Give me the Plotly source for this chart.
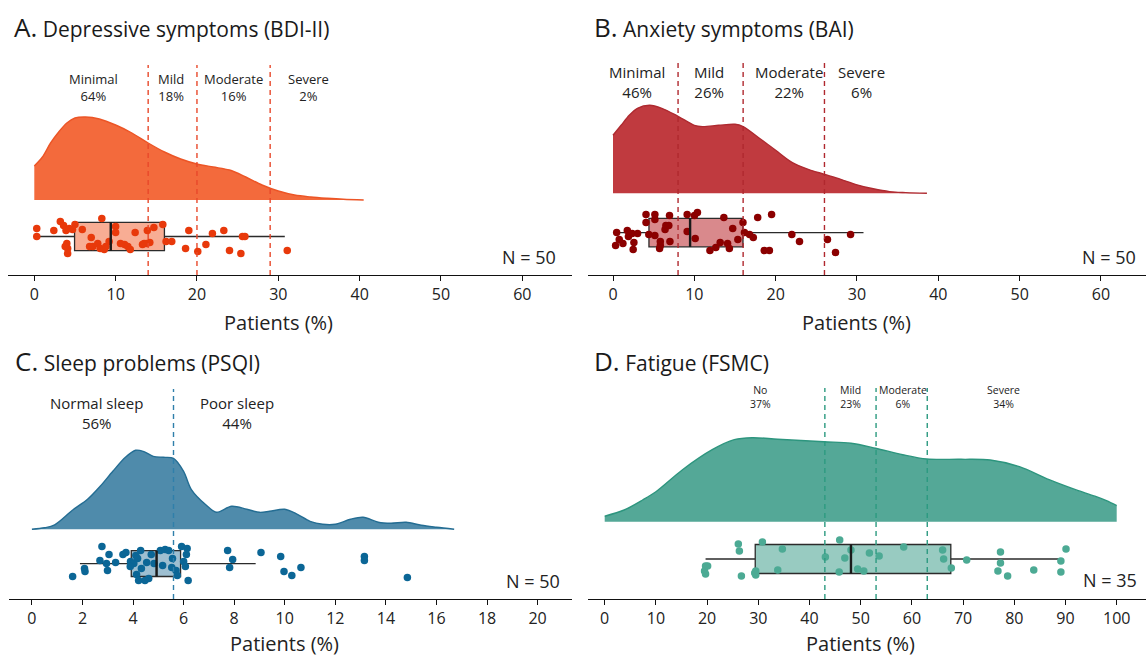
import plotly.graph_objects as go

W, H = 1148, 656
FONT = "Open Sans"
TXT = "#222222"

# ---------------- Panel A: Depressive symptoms (BDI-II) ----------------
a_title = ("A.", "Depressive symptoms (BDI-II)")
a_cuts = [14, 20, 29]
a_cat_labels = ["Minimal<br>64%", "Mild<br>18%", "Moderate<br>16%", "Severe<br>2%"]
a_cat_x = [7.3, 16.8, 24.5, 33.7]
a_dens_x = [0, 1, 2, 3, 4, 5, 6.3, 8, 10, 12, 14, 16, 18, 20, 22, 24, 26, 28, 30, 32, 34, 36, 38, 40.5]
a_dens_h = [34, 43, 57, 68, 77, 82, 83, 81, 75, 67, 57, 48, 41, 36, 33, 30, 23, 15, 9, 5, 3, 1.7, 0.7, 0]
a_pts_x = [0.3, 0.3, 2.4, 3.2, 3.6, 3.9, 4.0, 4.1, 4.1, 5.0, 4.7, 5.9, 7.0, 7.2, 7.8, 8.3, 8.1, 8.6, 9.2, 10.0,
           10.0, 11.1, 11.5, 11.8, 12.4, 13.3, 13.8, 14.2, 13.9, 14.7, 15.8, 16.2, 16.9, 18.6, 19.0, 20.1, 21.1,
           21.9, 23.3, 24.0, 25.4, 25.6, 25.9, 31.1, 4.3, 6.8, 8.8, 3.8, 10.6, 13.5]
a_pts_jit = [8, 0, 6, 15, 11, 6, -7, -12, -17, 12, 7, 7, -1, -10, -7, 18, -12, -13, -5, 10,
             4, -8, -10, -13, 4, -8, -7, -6, 6, 9, 12, -5, -5, -12, 6, -15, -8, 3, 6, -14,
             -17, 0, 0, -14, 8, -10, -10, -10, -7, -7]
a_box = [0.5, 4.95, 9.4, 16.0, 30.8]   # lower whisker, Q1, median, Q3, upper whisker
a_n = "N = 50"

# ---------------- Panel B: Anxiety symptoms (BAI) ----------------
b_title = ("B.", "Anxiety symptoms (BAI)")
b_cuts = [8, 16, 26]
b_cat_labels = ["Minimal<br>46%", "Mild<br>26%", "Moderate<br>22%", "Severe<br>6%"]
b_cat_x = [2.9, 11.8, 21.6, 30.6]
b_dens_x = [0, 1, 2, 3, 4.5, 6, 8, 10, 11, 13, 15, 16, 18, 20, 22, 24, 26, 28, 30, 32, 34, 36, 38.6]
b_dens_h = [58, 68, 78, 85, 88, 85, 77, 68, 66.7, 68, 69, 66.7, 55, 43, 31, 24, 19, 14, 8.5, 4.5, 1.7, 0.7, 0]
b_pts_x = [0.45, 0.32, 0.77, 1.76, 1.90, 2.35, 2.57, 3.02, 2.48, 1.22, 4.06, 4.06, 5.15, 5.15, 5.15, 5.82,
           5.82, 5.73, 6.50, 6.86, 6.95, 7.00, 9.12, 9.12, 10.02, 10.38, 10.11, 11.92, 12.64, 13.18, 13.63,
           14.09, 14.31, 14.72, 15.35, 15.98, 16.16, 16.79, 17.25, 17.79, 18.60, 19.23, 19.50, 21.99, 22.93,
           26.37, 27.36, 29.21, 6.4, 4.4]
b_pts_jit = [0, -13, -7, 2, -4, -1, -10, -1, -17, -11, 18, 10, 18, 13, -3, -9,
             -13, -16, 7, 7, 17, -9, 18, 1, 17, 20, -6, -18, -15, -10, 15,
             -11, -16, 4, -7, 10, 0, -2, -5, 15, -18, -18, 18, -2, -9,
             -7, -20, -2, 3, -2]
b_box = [0.2, 4.42, 9.48, 15.98, 30.8]
b_n = "N = 50"

# ---------------- Panel C: Sleep problems (PSQI) ----------------
c_title = ("C.", "Sleep problems (PSQI)")
c_cuts = [5.6]
c_cat_labels = ["Normal sleep<br>56%", "Poor sleep<br>44%"]
c_cat_x = [2.55, 8.1]
c_dens_x = [0, 0.5, 0.9, 1.6, 2.2, 2.7, 3.2, 3.7, 4.1, 4.4, 4.8, 5.2, 5.6, 6.0, 6.3, 6.9, 7.3, 7.9, 8.5, 9.0,
            9.4, 10.0, 10.5, 11.0, 11.5, 12.0, 12.6, 13.1, 13.7, 14.2, 14.8, 15.4, 16.0, 16.7]
c_dens_h = [0, 1.5, 4.5, 19, 30, 43, 58, 72, 79, 78, 73, 72, 71, 58, 40, 24, 17, 23, 20, 17,
            18, 20, 15, 8, 5, 5, 10, 12, 7, 6, 7, 4, 2, 0]
c_pts_x = [1.61, 2.08, 2.10, 2.77, 2.69, 2.95, 3.05, 2.99, 3.31, 3.60, 3.72, 3.90, 4.03, 4.14, 4.22, 4.11,
           4.30, 4.18, 4.54, 4.62, 4.72, 5.08, 5.17, 5.27, 5.53, 5.70, 5.75, 5.92, 6.00, 6.07, 6.11, 6.14,
           6.18, 7.74, 7.94, 7.82, 9.06, 9.84, 9.97, 10.28, 10.64, 13.15, 13.15, 14.85, 4.83, 4.33, 5.56,
           3.89, 5.41, 4.47]
c_pts_jit = [-13, -5, -8, 17, 3, 0, 9, -7, 1, 9, 11, 2, 0, -11, -17, 8,
             13, 5, 1, -15, 9, 13, -2, 14, -4, -7, -12, 17, 2, -3, 9, 15,
             -17, 13, 4, -4, 11, 7, -8, -12, -4, 7, 3, -14, 0, -5, 5,
             -3, 13, -17]
c_box = [1.9, 3.93, 4.93, 5.88, 8.85]
c_n = "N = 50"

# ---------------- Panel D: Fatigue (FSMC) ----------------
d_title = ("D.", "Fatigue (FSMC)")
d_cuts = [43, 53, 63]
d_cat_labels = ["No<br>37%", "Mild<br>23%", "Moderate<br>6%", "Severe<br>34%"]
d_cat_x = [30.4, 48.1, 58.3, 77.9]
d_dens_x = [0, 3.8, 7.4, 10, 15.2, 21, 25.3, 28.8, 33.8, 42.8, 48.1, 52.9, 58.2, 62.9, 69.6, 75.3, 81,
            86.8, 92.5, 96, 98, 100]
d_dens_h = [5.5, 11.7, 21.7, 30, 52, 72, 82, 84, 82.5, 80, 78.5, 73.5, 67, 62.7, 62.4, 61.7, 55,
            42, 31, 25, 21, 16]
d_pts_x = [19.7, 19.5, 19.7, 20.1, 26.1, 26.3, 26.7, 29.5, 29.5, 30.8, 33.8, 34.7, 43.1, 45.9, 45.8, 46.9,
           48.1, 49.4, 50.6, 51.7, 53.6, 58.4, 66.0, 66.2, 67.7, 70.7, 76.8, 77.3, 77.3, 78.7, 83.8, 89.1,
           89.1, 90.1, 29.3]
d_pts_jit = [-7, -12, -15, -7, 15, 8, -17, -12, -16, 17, -11, 10, 2, 19, -13, 1,
             9, -10, -12, 6, 3, 12, 9, 0, -9, -1, -12, 7, -4, -17, -11, -2,
             -13, 10, -14]
d_box = [19.7, 29.4, 48.1, 67.6, 88.9]
d_n = "N = 35"

# ---------------- styling / layout (not data) ----------------
panels = [
    dict(title=a_title, cuts=a_cuts, labs=a_cat_labels, labx=a_cat_x, dx=a_dens_x, dh=a_dens_h,
         px=a_pts_x, pj=a_pts_jit, box=a_box, n=a_n,
         fill="#F36A3C", line="#EC5526", pt="#E8390B", boxfill="rgba(243,106,60,0.55)", cut="#E8482A",
         xdom=(8.3, 572), zero=34.3, ppu=8.133, ydom=(275, 40), ticks=list(range(0, 61, 10)),
         base=75, boxc=38.5, boxw=28.4, cuttop=210, laby=187.5, labsize=13, nx=64.4, ny=18.5,
         tx=12, ty=27, tty=47),
    dict(title=b_title, cuts=b_cuts, labs=b_cat_labels, labx=b_cat_x, dx=b_dens_x, dh=b_dens_h,
         px=b_pts_x, pj=b_pts_jit, box=b_box, n=b_n,
         fill="#C03A3F", line="#AE2A30", pt="#8B0000", boxfill="rgba(192,58,63,0.6)", cut="#B0282E",
         xdom=(587.7, 1146), zero=613, ppu=8.133, ydom=(275, 40), ticks=list(range(0, 61, 10)),
         base=81.7, boxc=42.4, boxw=28.4, cuttop=212, laby=192.8, labsize=15, nx=64.6, ny=18.5,
         tx=592, ty=27, tty=47),
    dict(title=c_title, cuts=c_cuts, labs=c_cat_labels, labx=c_cat_x, dx=c_dens_x, dh=c_dens_h,
         px=c_pts_x, pj=c_pts_jit, box=c_box, n=c_n,
         fill="#4F8BAB", line="#246D93", pt="#0B6696", boxfill="rgba(79,139,171,0.55)", cut="#2F7FAA",
         xdom=(9, 572), zero=31.9, ppu=25.285, ydom=(599, 364), ticks=list(range(0, 21, 2)),
         base=69.7, boxc=35.4, boxw=25.8, cuttop=210, laby=186.3, labsize=15, nx=20.95, ny=18,
         tx=12.7, ty=361, tty=44),
    dict(title=d_title, cuts=d_cuts, labs=d_cat_labels, labx=d_cat_x, dx=d_dens_x, dh=d_dens_h,
         px=d_pts_x, pj=d_pts_jit, box=d_box, n=d_n,
         fill="#54A897", line="#2D957E", pt="#4CAA94", boxfill="rgba(84,168,151,0.6)", cut="#2C9A80",
         xdom=(588, 1146), zero=604.7, ppu=5.12, ydom=(599, 364), ticks=list(range(0, 101, 10)),
         base=77.3, boxc=40.0, boxw=29.0, cuttop=211, laby=202, labsize=10.5, nx=104.4, ny=19,
         tx=592, ty=361, tty=44),
]

fig = go.Figure()
annotations = []
layout_axes = {}

# boxes first so that their layer lies beneath scatter layers
for i, p in enumerate(panels):
    sfx = "" if i == 0 else str(i + 1)
    lo, q1, med, q3, hi = p["box"]
    fig.add_trace(go.Box(
        y=[p["boxc"]], q1=[q1], median=[med], q3=[q3], lowerfence=[lo], upperfence=[hi],
        orientation="h", width=p["boxw"], whiskerwidth=0, boxpoints=False,
        fillcolor=p["boxfill"], line=dict(color="#2b2b2b", width=1.3),
        xaxis="x" + sfx, yaxis="y" + sfx, hoverinfo="skip", showlegend=False))

for i, p in enumerate(panels):
    sfx = "" if i == 0 else str(i + 1)
    xa, ya = "x" + sfx, "y" + sfx
    base = p["base"]
    # density (half violin)
    fig.add_trace(go.Scatter(x=[p["dx"][0], p["dx"][-1]], y=[base, base], mode="lines",
                             line=dict(width=0, color=p["fill"]), xaxis=xa, yaxis=ya,
                             hoverinfo="skip", showlegend=False))
    fig.add_trace(go.Scatter(x=p["dx"], y=[base + h for h in p["dh"]], mode="lines",
                             line=dict(color=p["line"], width=1.4, shape="spline", smoothing=0.9),
                             fill="tonexty", fillcolor=p["fill"], xaxis=xa, yaxis=ya,
                             hoverinfo="skip", showlegend=False))
    # jittered points
    fig.add_trace(go.Scatter(x=p["px"], y=[p["boxc"] + j for j in p["pj"]], mode="markers",
                             marker=dict(size=7.5, color=p["pt"], line=dict(width=0)),
                             xaxis=xa, yaxis=ya, hoverinfo="skip", showlegend=False))
    # thicker median bar
    med = p["box"][2]
    fig.add_trace(go.Scatter(x=[med, med], y=[p["boxc"] - p["boxw"] / 2, p["boxc"] + p["boxw"] / 2],
                             mode="lines", line=dict(color="#1a1a1a", width=2.4),
                             xaxis=xa, yaxis=ya, hoverinfo="skip", showlegend=False))
    # cut-off lines
    for c in p["cuts"]:
        fig.add_trace(go.Scatter(x=[c, c], y=[0, p["cuttop"]], mode="lines",
                                 line=dict(color=p["cut"], width=1.4, dash="5px,4px"),
                                 xaxis=xa, yaxis=ya, hoverinfo="skip", showlegend=False))
    # category labels
    for lx, lt in zip(p["labx"], p["labs"]):
        annotations.append(dict(x=lx, y=p["laby"], xref=xa, yref=ya, text=lt, showarrow=False,
                                xanchor="center", yanchor="middle", align="center",
                                font=dict(family=FONT, size=p["labsize"], color=TXT)))
    # N label
    annotations.append(dict(x=p["nx"], y=p["ny"], xref=xa, yref=ya, text=p["n"], showarrow=False,
                            xanchor="right", yanchor="middle",
                            font=dict(family=FONT, size=18, color=TXT)))
    # panel title
    annotations.append(dict(x=p["tx"] / W, y=1 - p["ty"] / H, xref="paper", yref="paper",
                            text="<span style='font-size:26px'>%s</span> %s" % p["title"],
                            showarrow=False, xanchor="left", yanchor="middle",
                            font=dict(family=FONT, size=21, color="#1a1a1a")))
    # axis title
    t0, t1 = p["ticks"][0], p["ticks"][-1]
    cx = p["zero"] + p["ppu"] * (t0 + t1) / 2
    annotations.append(dict(x=cx / W, y=1 - (p["ydom"][0] + p["tty"]) / H, xref="paper", yref="paper",
                            text="Patients (%)", showarrow=False, xanchor="center", yanchor="middle",
                            borderpad=0, font=dict(family=FONT, size=20, color=TXT)))
    # axes
    x0px, x1px = p["xdom"]
    rng = [(x0px - p["zero"]) / p["ppu"], (x1px - p["zero"]) / p["ppu"]]
    layout_axes["xaxis" + sfx] = dict(
        domain=[x0px / W, x1px / W], range=rng, anchor=ya, tickmode="array", tickvals=p["ticks"],
        showline=True, linecolor="#111111", linewidth=1.4, ticks="outside", ticklen=5,
        tickcolor="#111111", tickwidth=1.3, showgrid=False, zeroline=False,
        tickfont=dict(family=FONT, size=16, color=TXT), fixedrange=True)
    yb, yt = p["ydom"]
    layout_axes["yaxis" + sfx] = dict(
        domain=[1 - yb / H, 1 - yt / H], range=[0, yb - yt], anchor=xa, visible=False,
        showgrid=False, zeroline=False, fixedrange=True)

fig.update_layout(width=W, height=H, margin=dict(l=0, r=0, t=0, b=0),
                  paper_bgcolor="white", plot_bgcolor="white", showlegend=False,
                  annotations=annotations, font=dict(family=FONT, color=TXT), **layout_axes)

fig.write_html("out.html")
